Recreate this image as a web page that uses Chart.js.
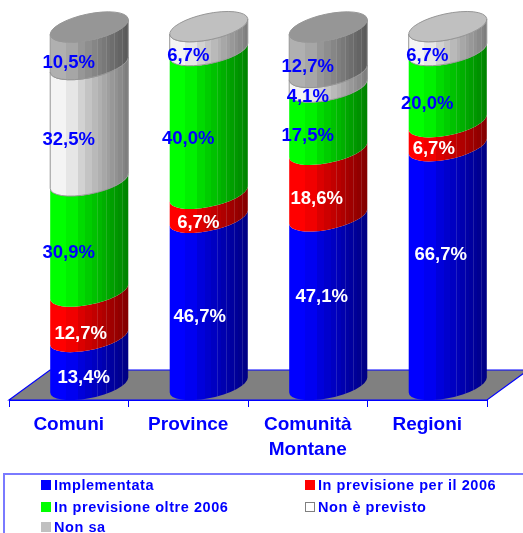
<!DOCTYPE html>
<html>
<head>
<meta charset="utf-8">
<script src="https://cdn.jsdelivr.net/npm/chart.js@4"></script>
<style>
html, body { margin: 0; padding: 0; background: #fff; overflow: hidden; }
#wrap { position: relative; width: 523px; height: 533px; overflow: hidden; }
#legend {
    position: absolute; left: 3px; top: 473px; width: 530px; height: 70px;
    border: 2px solid #7a7aff; box-sizing: border-box;
    font: bold 14.5px "Liberation Sans", Arial, sans-serif; letter-spacing: 0.55px; color: #0000ff;
}
#legend div { position: absolute; white-space: nowrap; line-height: 16px; }
#legend i { position: absolute; width: 10px; height: 10px; left: -13px; top: 3px; box-sizing: border-box; }
</style>
</head>
<body>
<div id="wrap">
<canvas id="chart" width="523" height="533"></canvas>
<div id="legend"></div>
</div>
<script>
const categories = ['Comuni', 'Province', ['Comunità', 'Montane'], 'Regioni'];
const implementata = [13.4, 46.7, 47.1, 66.7];
const previsione2006 = [12.7, 6.7, 18.6, 6.7];
const previsioneOltre = [30.9, 40.0, 17.5, 20.0];
const nonPrevisto = [32.5, 6.7, 4.1, 6.7];
const nonSa = [10.5, null, 12.7, null];

const seriesNames = ['Implementata', 'In previsione per il 2006', 'In previsione oltre 2006', 'Non è previsto', 'Non sa'];
const seriesColors = ['#0000ff', '#ff0000', '#00ff00', '#f4f4f4', '#b0b0b0'];
const topColors = ['#0000ff', '#ff0000', '#00ff00', '#c0c0c0', '#969696'];
const swatchColors = ['#0000ff', '#ff0000', '#00ff00', '#ffffff', '#c0c0c0'];
const labelColors = ['#ffffff', '#ffffff', '#0000ff', '#0000ff', '#0000ff'];

// the white labels were moved by hand in the original
const labelDx = [[15, 11.5, 14, 13.5], [12, 10, 9, 6.5], [0, 0, 0, 0], [0, 0, 0, 0], [0, 0, 0, 0]];
const labelDy = [[0, -2, -21, -28], [3, 0, -1, -2], [0, 0, 0, 0], [0, 0, 0, 0], [0, 0, 0, 0]];

const depthX = 41, depthY = 30;
const tilt = -12 * Math.PI / 180;
const facets = [0, 0.11, 0.2, 0.35, 0.45, 0.53, 0.6, 0.66, 0.72, 0.77, 0.82, 0.87, 0.92, 0.96, 1];

function shade(hex, f) {
    const n = parseInt(hex.slice(1), 16);
    const r = Math.round((n >> 16 & 255) * f), g = Math.round((n >> 8 & 255) * f), b = Math.round((n & 255) * f);
    return 'rgb(' + r + ',' + g + ',' + b + ')';
}

function sideFill(ctx, left, right, hex) {
    // stepped like the facets of the original 3D cylinder
    const g = ctx.createLinearGradient(left, 0, right, 0);
    for (let i = 0; i < facets.length - 1; i++) {
        const f = i < 2 ? 1 : 1 - (facets[i] - 0.1) * 0.56;
        g.addColorStop(facets[i], shade(hex, f));
        g.addColorStop(facets[i + 1], shade(hex, f));
    }
    return g;
}

const floorPlugin = {
    id: 'floor',
    beforeDatasetsDraw(chart) {
        const { ctx, chartArea: a } = chart;
        ctx.save();
        ctx.beginPath();
        ctx.moveTo(a.left, a.bottom);
        ctx.lineTo(a.left + depthX, a.bottom - depthY);
        ctx.lineTo(a.right + depthX, a.bottom - depthY);
        ctx.lineTo(a.right, a.bottom);
        ctx.closePath();
        ctx.fillStyle = '#808080';
        ctx.fill();
        ctx.strokeStyle = '#0000ff';
        ctx.lineWidth = 1.2;
        ctx.stroke();
        ctx.restore();
    }
};

const cylinderPlugin = {
    id: 'cylinders',
    afterDatasetsDraw(chart) {
        const { ctx } = chart;
        const metas = chart.data.datasets.map((d, i) => chart.getDatasetMeta(i));
        categories.forEach((c, idx) => {
            let top = null;
            metas.forEach((meta, s) => {
                if (chart.data.datasets[s].data[idx] == null) return;
                const bar = meta.data[idx];
                const cx = bar.x + depthX / 2;
                const yTop = bar.y - depthY / 2;
                const yBase = bar.base - depthY / 2;
                const a = bar.width / 2 + 0.8, b = 13;
                const t = Math.atan(-(b / a) * Math.tan(tilt));
                const w = bar.width / 2;
                ctx.save();
                ctx.beginPath();
                ctx.ellipse(cx, yTop, a, b, tilt, t, t + Math.PI, false);
                ctx.ellipse(cx, yBase, a, b, tilt, t + Math.PI, t, true);
                ctx.closePath();
                ctx.fillStyle = sideFill(ctx, cx - w, cx + w, seriesColors[s]);
                ctx.fill();
                if (s >= 3) {
                    ctx.strokeStyle = '#969696';
                    ctx.lineWidth = 1;
                    ctx.stroke();
                }
                // thin light seams, only on the shaded side
                ctx.clip();
                ctx.strokeStyle = 'rgba(255,255,255,0.13)';
                ctx.lineWidth = 1;
                facets.forEach((p, i) => {
                    if (p < 0.5 || p === 1 || i % 2 === 1) return;
                    const x = Math.round(cx - w + p * 2 * w) + 0.5;
                    ctx.beginPath();
                    ctx.moveTo(x, yTop - 20);
                    ctx.lineTo(x, yBase + 20);
                    ctx.stroke();
                });
                ctx.restore();
                top = { cx, yTop, a, b, s };
            });
            ctx.save();
            ctx.beginPath();
            ctx.ellipse(top.cx, top.yTop, top.a, top.b, tilt, 0, Math.PI * 2);
            ctx.fillStyle = topColors[top.s];
            ctx.fill();
            ctx.strokeStyle = '#969696';
            ctx.lineWidth = 1;
            ctx.stroke();
            ctx.restore();
        });
        // value labels sit on the unshifted bar centres
        ctx.save();
        ctx.font = 'bold 18.5px "Liberation Sans", Arial, sans-serif';
        ctx.textAlign = 'center';
        ctx.textBaseline = 'middle';
        metas.forEach((meta, s) => {
            chart.data.datasets[s].data.forEach((v, idx) => {
                if (v == null) return;
                const p = meta.data[idx].getCenterPoint();
                ctx.fillStyle = labelColors[s];
                ctx.fillText(v.toFixed(1).replace('.', ',') + '%', p.x + labelDx[s][idx], p.y + 2 + labelDy[s][idx]);
            });
        });
        ctx.restore();
    }
};

new Chart(document.getElementById('chart').getContext('2d'), {
    type: 'bar',
    data: {
        labels: categories,
        datasets: [implementata, previsione2006, previsioneOltre, nonPrevisto, nonSa].map((values, i) => ({
            label: seriesNames[i],
            data: values,
            backgroundColor: 'rgba(0,0,0,0)',
            barPercentage: 0.653,
            categoryPercentage: 1,
        })),
    },
    options: {
        responsive: false,
        animation: false,
        layout: { padding: { left: 9, right: 36, top: 42, bottom: 59 } },
        plugins: { legend: { display: false }, tooltip: { enabled: false } },
        scales: {
            x: {
                stacked: true,
                afterFit(scale) { scale.height = 74; },
                grid: { drawOnChartArea: false, color: '#0000ff', tickLength: 7, tickWidth: 1 },
                border: { color: '#0000ff', width: 1 },
                ticks: {
                    color: '#0000ff',
                    padding: 5,
                    maxRotation: 0,
                    autoSkip: false,
                    font: { family: '"Liberation Sans", Arial, sans-serif', size: 19, weight: 'bold', lineHeight: 1.32 },
                },
            },
            y: { stacked: true, display: false, min: 0, max: 100 },
        },
    },
    plugins: [floorPlugin, cylinderPlugin],
});

// legend is two columns, filled row by row
const legendPos = [[49, 2], [313, 2], [49, 24], [313, 24], [49, 44]];
const legendEl = document.getElementById('legend');
seriesNames.forEach((name, s) => {
    const item = document.createElement('div');
    item.style.left = legendPos[s][0] + 'px';
    item.style.top = legendPos[s][1] + 'px';
    item.textContent = name;
    const box = document.createElement('i');
    box.style.background = swatchColors[s];
    if (s === 3) box.style.border = '1px solid #808080';
    item.appendChild(box);
    legendEl.appendChild(item);
});
</script>
</body>
</html>
